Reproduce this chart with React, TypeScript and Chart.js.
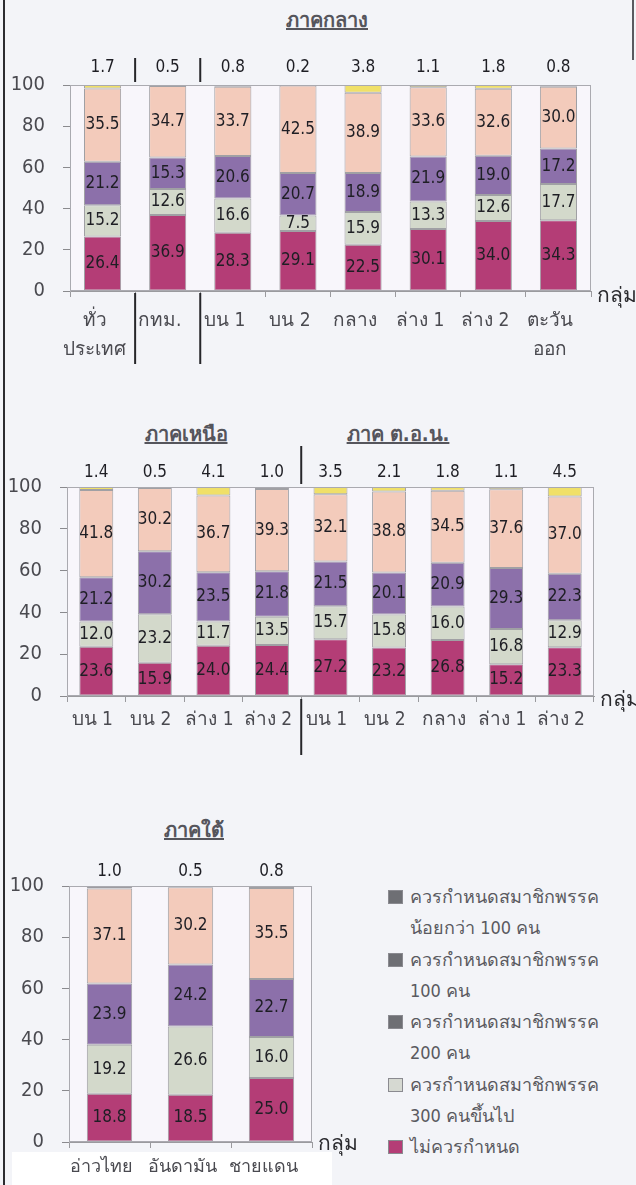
import React, { useEffect, useRef } from "react";
import { Chart, registerables } from "chart.js";

Chart.register(...registerables);

const FONT = "'DejaVu Sans Condensed', 'DejaVu Sans', 'Noto Sans', sans-serif";

// ---------- data ----------
const seriesNames = [
  "ไม่ควรกำหนด",
  "ควรกำหนดสมาชิกพรรค 300 คนขึ้นไป",
  "ควรกำหนดสมาชิกพรรค 200 คน",
  "ควรกำหนดสมาชิกพรรค 100 คน",
  "ควรกำหนดสมาชิกพรรค น้อยกว่า 100 คน",
];
const seriesColors = ["#b43d76", "#d3d9cb", "#8c70aa", "#f3cbbb", "#f0e068"];
const southColors = ["#b43d76", "#d3d9cb", "#8c70aa", "#f3cbbb", "#6e6f74"];

const centralCategories: (string | string[])[] = [
  ["ทั่ว", "ประเทศ"],
  "กทม.",
  "บน 1",
  "บน 2",
  "กลาง",
  "ล่าง 1",
  "ล่าง 2",
  ["ตะวัน", "ออก"],
];
const centralNot = [26.4, 36.9, 28.3, 29.1, 22.5, 30.1, 34.0, 34.3];
const central300 = [15.2, 12.6, 16.6, 7.5, 15.9, 13.3, 12.6, 17.7];
const central200 = [21.2, 15.3, 20.6, 20.7, 18.9, 21.9, 19.0, 17.2];
const central100 = [35.5, 34.7, 33.7, 42.5, 38.9, 33.6, 32.6, 30.0];
const centralUnder100 = [1.7, 0.5, 0.8, 0.2, 3.8, 1.1, 1.8, 0.8];

const northNeCategories = ["บน 1", "บน 2", "ล่าง 1", "ล่าง 2", "บน 1", "บน 2", "กลาง", "ล่าง 1", "ล่าง 2"];
const northNeNot = [23.6, 15.9, 24.0, 24.4, 27.2, 23.2, 26.8, 15.2, 23.3];
const northNe300 = [12.0, 23.2, 11.7, 13.5, 15.7, 15.8, 16.0, 16.8, 12.9];
const northNe200 = [21.2, 30.2, 23.5, 21.8, 21.5, 20.1, 20.9, 29.3, 22.3];
const northNe100 = [41.8, 30.2, 36.7, 39.3, 32.1, 38.8, 34.5, 37.6, 37.0];
const northNeUnder100 = [1.4, 0.5, 4.1, 1.0, 3.5, 2.1, 1.8, 1.1, 4.5];

const southCategories = ["อ่าวไทย", "อันดามัน", "ชายแดน"];
const southNot = [18.8, 18.5, 25.0];
const south300 = [19.2, 26.6, 16.0];
const south200 = [23.9, 24.2, 22.7];
const south100 = [37.1, 30.2, 35.5];
const southUnder100 = [1.0, 0.5, 0.8];

const groupAxisLabel = "กลุ่ม";

const legendItems: { lines: string[]; color: string }[] = [
  { lines: ["ควรกำหนดสมาชิกพรรค", "น้อยกว่า 100 คน"], color: "#6e6f74" },
  { lines: ["ควรกำหนดสมาชิกพรรค", "100 คน"], color: "#6e6f74" },
  { lines: ["ควรกำหนดสมาชิกพรรค", "200 คน"], color: "#6e6f74" },
  { lines: ["ควรกำหนดสมาชิกพรรค", "300 คนขึ้นไป"], color: "#d6d9d2" },
  { lines: ["ไม่ควรกำหนด"], color: "#b43d76" },
];

// ---------- plugin ----------
const decorPlugin = {
  id: "decor",
  beforeDatasetsDraw(chart: any, _args: any, opts: any) {
    const { ctx, chartArea: a } = chart;
    ctx.save();
    ctx.fillStyle = opts.plotBg || "#f8f6fb";
    ctx.fillRect(a.left, a.top, a.right - a.left, a.bottom - a.top);
    ctx.restore();
  },
  afterDatasetsDraw(chart: any, _args: any, opts: any) {
    const { ctx, chartArea: a } = chart;
    ctx.save();
    ctx.strokeStyle = "#aaaab0";
    ctx.lineWidth = 1;
    ctx.strokeRect(a.left + 0.5, a.top + 0.5, a.right - a.left - 1, a.bottom - a.top - 1);

    const n = chart.data.datasets.length;
    ctx.font = `17px ${FONT}`;
    ctx.fillStyle = "#1e1e24";
    ctx.textAlign = "center";
    ctx.textBaseline = "middle";
    for (let d = 0; d < n - 1; d++) {
      const meta = chart.getDatasetMeta(d);
      meta.data.forEach((bar: any, i: number) => {
        const v = chart.data.datasets[d].data[i] as number;
        const p = bar.getProps(["x", "y", "base"], true);
        ctx.fillText(v.toFixed(1), p.x, (p.y + p.base) / 2);
      });
    }
    const topMeta = chart.getDatasetMeta(n - 1);
    topMeta.data.forEach((bar: any, i: number) => {
      const v = chart.data.datasets[n - 1].data[i] as number;
      ctx.fillText(v.toFixed(1), bar.x, a.top - (opts.topGap || 16));
    });

    ctx.font = `21px ${FONT}`;
    ctx.textAlign = "left";
    ctx.fillStyle = "#2a2a2e";
    ctx.fillText(groupAxisLabel, a.right + 6, a.bottom + (opts.groupDy || 6));

    const xs = chart.scales.x;
    ctx.strokeStyle = "#26262a";
    ctx.lineWidth = 2;
    for (const s of opts.separators || []) {
      const px = (xs.getPixelForValue(s.after) + xs.getPixelForValue(s.after + 1)) / 2;
      for (const [y0, y1] of s.ranges) {
        ctx.beginPath();
        ctx.moveTo(px, y0 - opts.offsetY);
        ctx.lineTo(px, y1 - opts.offsetY);
        ctx.stroke();
      }
    }
    ctx.restore();
  },
};

type Box = { x: number; y: number; w: number; h: number };
type Area = { l: number; r: number; t: number; b: number };
type PanelProps = {
  labels: (string | string[])[];
  series: number[][];
  colors: string[];
  box: Box;
  area: Area;
  barPct: number;
  labelOffset: number;
  xPad: number;
  xFont: number;
  separators: { after: number; ranges: [number, number][] }[];
  topGap: number;
  groupDy: number;
};

function Panel(props: PanelProps) {
  const ref = useRef<HTMLCanvasElement>(null);
  useEffect(() => {
    const canvas = ref.current!;
    const { box, area } = props;
    const l = area.l - box.x;
    const r = area.r - box.x;
    const t = area.t - box.y;
    const b = area.b - box.y;
    const chart = new Chart(canvas, {
      type: "bar",
      data: {
        labels: props.labels as any,
        datasets: props.series.map((d, i) => ({
          label: seriesNames[i],
          data: d,
          backgroundColor: props.colors[i],
          borderColor: "#a0a0a4",
          borderWidth: 1,
          borderSkipped: false,
          barPercentage: props.barPct,
          categoryPercentage: 1,
        })),
      },
      options: {
        responsive: false,
        animation: false,
        devicePixelRatio: 1,
        layout: { padding: { left: 0, top: t, right: box.w - r, bottom: 0 } },
        plugins: {
          legend: { display: false },
          tooltip: { enabled: false },
          title: { display: false },
          decor: {
            separators: props.separators,
            offsetY: box.y,
            topGap: props.topGap,
            groupDy: props.groupDy,
          },
        } as any,
        scales: {
          x: {
            stacked: true,
            grid: { offset: true, drawOnChartArea: false, tickLength: 6, color: "#9a9a9e" },
            border: { display: true, color: "#9a9a9e" },
            ticks: {
              font: { size: props.xFont, family: FONT, lineHeight: 1.5 },
              color: "#4a4a50",
              padding: props.xPad,
              labelOffset: props.labelOffset,
              autoSkip: false,
              maxRotation: 0,
            },
            afterFit: (s: any) => {
              s.height = box.h - b;
            },
          },
          y: {
            stacked: true,
            min: 0,
            max: 100,
            ticks: { stepSize: 20, font: { size: 20, family: FONT }, color: "#4a4a50", padding: 18 },
            grid: { drawOnChartArea: false, tickLength: 7, color: "#8a8a8e" },
            border: { display: true, color: "#b0b0b4" },
            afterFit: (s: any) => {
              s.width = l;
            },
          },
        },
      },
      plugins: [decorPlugin as any],
    });
    return () => chart.destroy();
  }, []);
  const { box } = props;
  return (
    <canvas
      ref={ref}
      width={box.w}
      height={box.h}
      style={{ position: "absolute", left: box.x, top: box.y, width: box.w, height: box.h }}
    />
  );
}

const titleStyle = (cx: number, cy: number): React.CSSProperties => ({
  position: "absolute",
  left: cx,
  top: cy,
  transform: "translate(-50%, -50%)",
  fontFamily: FONT,
  fontSize: 20,
  fontWeight: 600,
  color: "#55555c",
  textDecoration: "underline",
  whiteSpace: "nowrap",
});

export default function App() {
  return (
    <div
      style={{
        position: "absolute",
        left: 0,
        top: 0,
        width: 636,
        height: 1185,
        background: "#f3f4f8",
        overflow: "hidden",
      }}
    >
      <div style={{ position: "absolute", left: 3, top: 0, width: 2, height: 1185, background: "#2c2c30" }} />
      <div style={{ position: "absolute", left: 632, top: 0, width: 2, height: 60, background: "#5a5a60" }} />
      <div style={{ position: "absolute", left: 12, top: 1152, width: 320, height: 33, background: "#ffffff" }} />

      <div style={titleStyle(327, 20)}>ภาคกลาง</div>
      <div style={titleStyle(186, 434)}>ภาคเหนือ</div>
      <div style={titleStyle(398, 434)}>ภาค ต.อ.น.</div>
      <div style={titleStyle(194, 830)}>ภาคใต้</div>

      <Panel
        labels={centralCategories}
        series={[centralNot, central300, central200, central100, centralUnder100]}
        colors={seriesColors}
        box={{ x: 0, y: 45, w: 636, h: 355 }}
        area={{ l: 70, r: 591, t: 85, b: 291 }}
        barPct={0.57}
        labelOffset={-8}
        xPad={10}
        xFont={19}
        separators={[
          { after: 0, ranges: [[58, 82], [293, 364]] },
          { after: 1, ranges: [[58, 82], [293, 364]] },
        ]}
        topGap={17}
        groupDy={6}
      />
      <Panel
        labels={northNeCategories}
        series={[northNeNot, northNe300, northNe200, northNe100, northNeUnder100]}
        colors={seriesColors}
        box={{ x: 0, y: 442, w: 636, h: 340 }}
        area={{ l: 67, r: 594, t: 487, b: 696 }}
        barPct={0.58}
        labelOffset={-4}
        xPad={4}
        xFont={19}
        separators={[{ after: 3, ranges: [[446, 484], [699, 755]] }]}
        topGap={14}
        groupDy={5}
      />
      <Panel
        labels={southCategories}
        series={[southNot, south300, south200, south100, southUnder100]}
        colors={southColors}
        box={{ x: 0, y: 845, w: 380, h: 340 }}
        area={{ l: 69, r: 312, t: 886, b: 1142 }}
        barPct={0.56}
        labelOffset={-8}
        xPad={6}
        xFont={18}
        separators={[]}
        topGap={14}
        groupDy={3}
      />

      <div style={{ position: "absolute", left: 386, top: 881, fontFamily: FONT, fontSize: 18, color: "#5a5a60" }}>
        {legendItems.map((it, i) =>
          it.lines.map((ln, j) => (
            <div key={`${i}-${j}`} style={{ position: "relative", height: 31.3, lineHeight: "31.3px", paddingLeft: 24, whiteSpace: "nowrap" }}>
              {j === 0 ? (
                <span
                  style={{
                    position: "absolute",
                    left: 2,
                    top: 9,
                    width: 15,
                    height: 14,
                    background: it.color,
                    border: "1px solid #8a8a90",
                    boxSizing: "border-box",
                  }}
                />
              ) : null}
              {ln}
            </div>
          ))
        )}
      </div>
    </div>
  );
}
